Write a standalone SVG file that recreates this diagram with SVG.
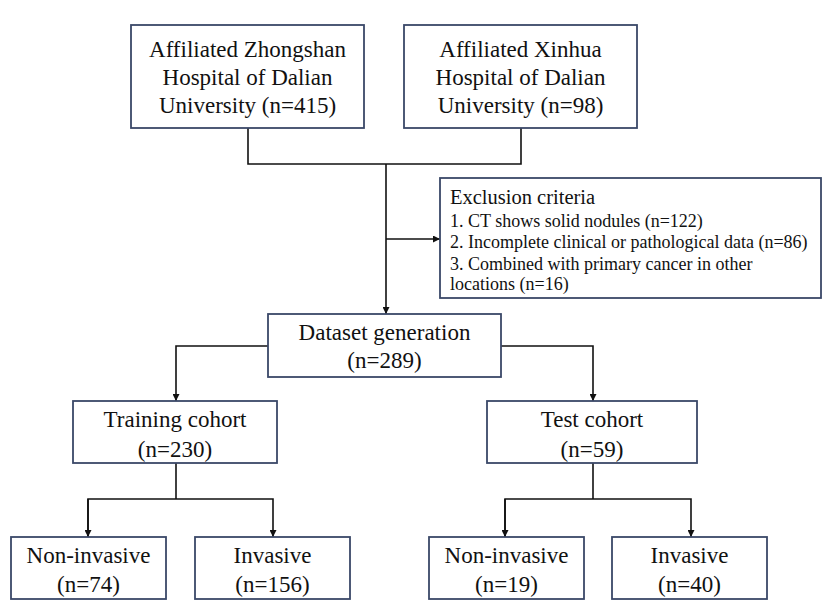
<svg xmlns="http://www.w3.org/2000/svg" width="837" height="607" viewBox="0 0 837 607">
<style>
.box{fill:#fff;stroke:#3a4868;stroke-width:1.8}
.t{font-family:"Liberation Serif","Times New Roman",serif;font-size:23px;fill:#111;text-anchor:middle}
.e{font-family:"Liberation Serif","Times New Roman",serif;font-size:18px;fill:#111}
.eh{font-size:20.5px}
.c{fill:none;stroke:#111;stroke-width:1.6}
</style>
<defs>
<marker id="ah" viewBox="0 0 10 10" refX="10" refY="5" markerWidth="7" markerHeight="7" markerUnits="userSpaceOnUse" orient="auto"><path d="M0,0 L10,5 L0,10 z" fill="#111"/></marker>
</defs>
<rect width="837" height="607" fill="#fff"/>
<g id="connectors">
<path class="c" d="M248,128 V164 H521 V128"/>
<path class="c" d="M386,164 V314" marker-end="url(#ah)"/>
<path class="c" d="M386,239 H440" marker-end="url(#ah)"/>
<path class="c" d="M268,346 H176 V401" marker-end="url(#ah)"/>
<path class="c" d="M501,346 H593 V401" marker-end="url(#ah)"/>
<path class="c" d="M176,463 V499"/>
<path class="c" d="M88,537 V499 H273 V537" marker-end="url(#ah)"/>
<path class="c" d="M88,499 V537" marker-end="url(#ah)"/>
<path class="c" d="M593,463 V499"/>
<path class="c" d="M505,537 V499 H691 V537" marker-end="url(#ah)"/>
<path class="c" d="M505,499 V537" marker-end="url(#ah)"/>
</g>
<g id="zhongshan">
<rect class="box" x="131" y="25" width="233" height="103"/>
<text class="t" x="247.5" y="57">Affiliated Zhongshan</text>
<text class="t" x="247.5" y="85">Hospital of Dalian</text>
<text class="t" x="247.5" y="113">University (n=415)</text>
</g>
<g id="xinhua">
<rect class="box" x="404" y="25" width="233" height="103"/>
<text class="t" x="520.5" y="57">Affiliated Xinhua</text>
<text class="t" x="520.5" y="85">Hospital of Dalian</text>
<text class="t" x="520.5" y="113">University (n=98)</text>
</g>
<g id="exclusion">
<rect class="box" x="440" y="178" width="381" height="120"/>
<text class="e eh" x="450" y="204">Exclusion criteria</text>
<text class="e" x="450" y="227">1. CT shows solid nodules (n=122)</text>
<text class="e" x="450" y="248">2. Incomplete clinical or pathological data (n=86)</text>
<text class="e" x="450" y="270">3. Combined with primary cancer in other</text>
<text class="e" x="450" y="290">locations (n=16)</text>
</g>
<g id="dataset">
<rect class="box" x="268" y="314" width="233" height="63"/>
<text class="t" x="384.5" y="340">Dataset generation</text>
<text class="t" x="384.5" y="368">(n=289)</text>
</g>
<g id="training">
<rect class="box" x="73" y="401" width="204" height="62"/>
<text class="t" x="175" y="427">Training cohort</text>
<text class="t" x="175" y="457">(n=230)</text>
</g>
<g id="test">
<rect class="box" x="487" y="401" width="210" height="62"/>
<text class="t" x="592" y="427">Test cohort</text>
<text class="t" x="592" y="457">(n=59)</text>
</g>
<g id="train-noninvasive">
<rect class="box" x="11" y="537" width="155" height="62"/>
<text class="t" x="88.5" y="563">Non-invasive</text>
<text class="t" x="88.5" y="592">(n=74)</text>
</g>
<g id="train-invasive">
<rect class="box" x="195" y="537" width="155" height="62"/>
<text class="t" x="272.5" y="563">Invasive</text>
<text class="t" x="272.5" y="592">(n=156)</text>
</g>
<g id="test-noninvasive">
<rect class="box" x="429" y="537" width="155" height="62"/>
<text class="t" x="506.5" y="563">Non-invasive</text>
<text class="t" x="506.5" y="592">(n=19)</text>
</g>
<g id="test-invasive">
<rect class="box" x="612" y="537" width="155" height="62"/>
<text class="t" x="689.5" y="563">Invasive</text>
<text class="t" x="689.5" y="592">(n=40)</text>
</g>
</svg>
